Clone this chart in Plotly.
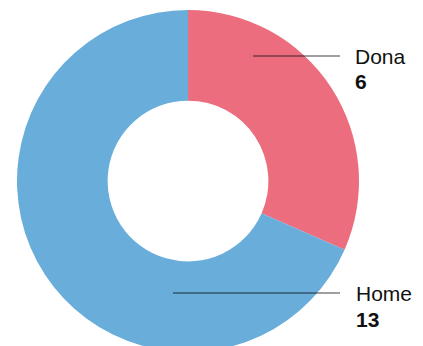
import plotly.graph_objects as go

labels = ["Dona", "Home"]
values = [6, 13]
colors = ["#EC6E7E", "#69ADDA"]

W, H = 423, 362

def px(x):
    return x / W

def py(y):
    return 1 - y / H

fig = go.Figure(go.Pie(
    labels=labels,
    values=values,
    hole=0.47,
    sort=False,
    direction="clockwise",
    rotation=0,
    marker=dict(colors=colors, line=dict(width=0)),
    textinfo="none",
    hoverinfo="label+value",
    domain=dict(x=[px(17), px(359)], y=[py(352), py(10)]),
    showlegend=False,
))

# callout lines and labels
callouts = [(253, 56, 353), (173, 293, 354)]
font = "Liberation Sans, Arial, Helvetica, sans-serif"
for (x0, y, tx), name, val in zip(callouts, labels, values):
    fig.add_shape(type="line", xref="paper", yref="paper",
                  x0=px(x0), x1=px(340), y0=py(y), y1=py(y),
                  line=dict(color="rgba(0,0,0,0.75)", width=1))
    fig.add_annotation(xref="paper", yref="paper", x=px(tx), y=py(y),
                       text=name, showarrow=False, xanchor="left", yanchor="middle",
                       font=dict(family=font, size=21, color="#111"))
    fig.add_annotation(xref="paper", yref="paper", x=px(tx), y=py(y + 26),
                       text="<b>%d</b>" % val, showarrow=False, xanchor="left", yanchor="middle",
                       font=dict(family=font, size=21, color="#111"))

fig.update_layout(
    width=W, height=H,
    margin=dict(l=0, r=0, t=0, b=0),
    paper_bgcolor="white",
    plot_bgcolor="white",
)

fig.write_html("out.html", config={"displayModeBar": False},
               post_script="document.body.style.margin='0';document.body.style.overflow='hidden';")
